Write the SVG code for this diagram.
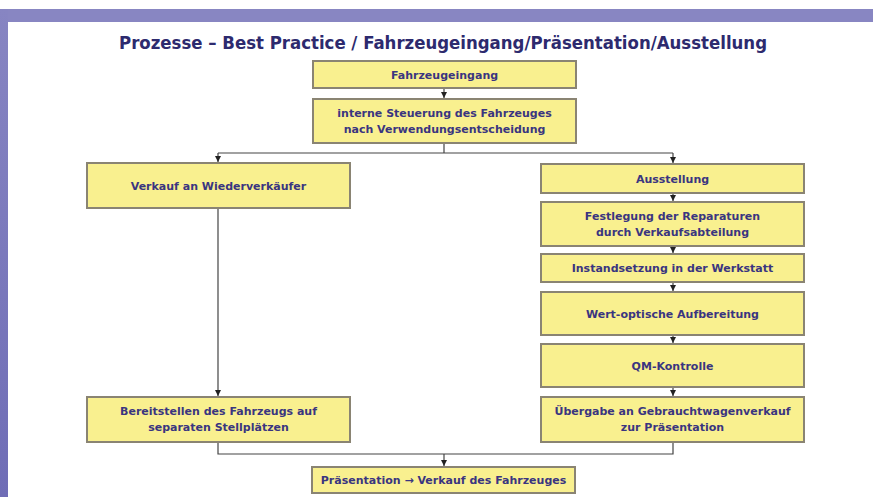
<svg xmlns="http://www.w3.org/2000/svg" width="873" height="497" viewBox="0 0 873 497">
<defs>
<linearGradient id="lg" x1="0" y1="0" x2="0" y2="1">
<stop offset="0" stop-color="#8785c2"/>
<stop offset="1" stop-color="#6f6db6"/>
</linearGradient>
<marker id="ah" viewBox="0 0 8 8" refX="8" refY="4" markerWidth="6" markerHeight="6" markerUnits="userSpaceOnUse" orient="auto">
<path d="M0,0 L8,4 L0,8 z" fill="#222"/>
</marker>
<style>
.box{fill:#f9f08f;stroke:#8a8473;stroke-width:2}
.t{font-family:"DejaVu Sans",Verdana,sans-serif;font-weight:bold;font-size:11px;fill:#3a3580;text-anchor:middle}
.title{font-family:"DejaVu Sans Condensed","DejaVu Sans",sans-serif;font-weight:bold;font-size:17.5px;fill:#2d2a6e;text-anchor:middle}
.c{fill:none;stroke:#444;stroke-width:1.2}
</style>
</defs>
<rect x="0" y="0" width="873" height="497" fill="#fff"/>
<rect x="0" y="9" width="873" height="13" fill="#8886c2"/>
<rect x="0" y="9" width="8" height="488" fill="url(#lg)"/>
<text class="title" x="443" y="49" textLength="648" lengthAdjust="spacingAndGlyphs">Prozesse – Best Practice / Fahrzeugeingang/Präsentation/Ausstellung</text>

<g id="connectors">
<path class="c" d="M444,88 V98" marker-end="url(#ah)"/>
<path class="c" d="M444,143 V153 M218,153 H673"/>
<path class="c" d="M218,153 V162" marker-end="url(#ah)"/>
<path class="c" d="M673,153 V163" marker-end="url(#ah)"/>
<path class="c" d="M673,193 V201" marker-end="url(#ah)"/>
<path class="c" d="M673,246 V253" marker-end="url(#ah)"/>
<path class="c" d="M673,282 V291" marker-end="url(#ah)"/>
<path class="c" d="M673,335 V343" marker-end="url(#ah)"/>
<path class="c" d="M673,387 V396" marker-end="url(#ah)"/>
<path class="c" d="M218,208 V396" marker-end="url(#ah)"/>
<path class="c" d="M218,442 V454 H673 V442"/>
<path class="c" d="M444,454 V466" marker-end="url(#ah)"/>
</g>

<g id="n-fahrzeugeingang">
<rect class="box" x="313" y="61" width="263" height="27"/>
<text class="t" x="444.5" y="79">Fahrzeugeingang</text>
</g>
<g id="n-steuerung">
<rect class="box" x="313" y="99" width="263" height="44"/>
<text class="t" x="444.5" y="117">interne Steuerung des Fahrzeuges</text>
<text class="t" x="444.5" y="133">nach Verwendungsentscheidung</text>
</g>
<g id="n-verkauf">
<rect class="box" x="87" y="163" width="263" height="45"/>
<text class="t" x="218.5" y="190">Verkauf an Wiederverkäufer</text>
</g>
<g id="n-ausstellung">
<rect class="box" x="541" y="164" width="263" height="29"/>
<text class="t" x="672.5" y="183">Ausstellung</text>
</g>
<g id="n-festlegung">
<rect class="box" x="541" y="202" width="263" height="44"/>
<text class="t" x="672.5" y="220">Festlegung der Reparaturen</text>
<text class="t" x="672.5" y="236">durch Verkaufsabteilung</text>
</g>
<g id="n-instandsetzung">
<rect class="box" x="541" y="254" width="263" height="28"/>
<text class="t" x="672.5" y="272">Instandsetzung in der Werkstatt</text>
</g>
<g id="n-aufbereitung">
<rect class="box" x="541" y="292" width="263" height="43"/>
<text class="t" x="672.5" y="318">Wert-optische Aufbereitung</text>
</g>
<g id="n-qm">
<rect class="box" x="541" y="344" width="263" height="43"/>
<text class="t" x="672.5" y="370">QM-Kontrolle</text>
</g>
<g id="n-uebergabe">
<rect class="box" x="541" y="397" width="263" height="45"/>
<text class="t" x="672.5" y="415">Übergabe an Gebrauchtwagenverkauf</text>
<text class="t" x="672.5" y="431">zur Präsentation</text>
</g>
<g id="n-bereitstellen">
<rect class="box" x="87" y="397" width="263" height="45"/>
<text class="t" x="218.5" y="415">Bereitstellen des Fahrzeugs auf</text>
<text class="t" x="218.5" y="431">separaten Stellplätzen</text>
</g>
<g id="n-praesentation">
<rect class="box" x="312" y="467" width="263" height="26"/>
<text class="t" x="443.5" y="484">Präsentation → Verkauf des Fahrzeuges</text>
</g>
</svg>
